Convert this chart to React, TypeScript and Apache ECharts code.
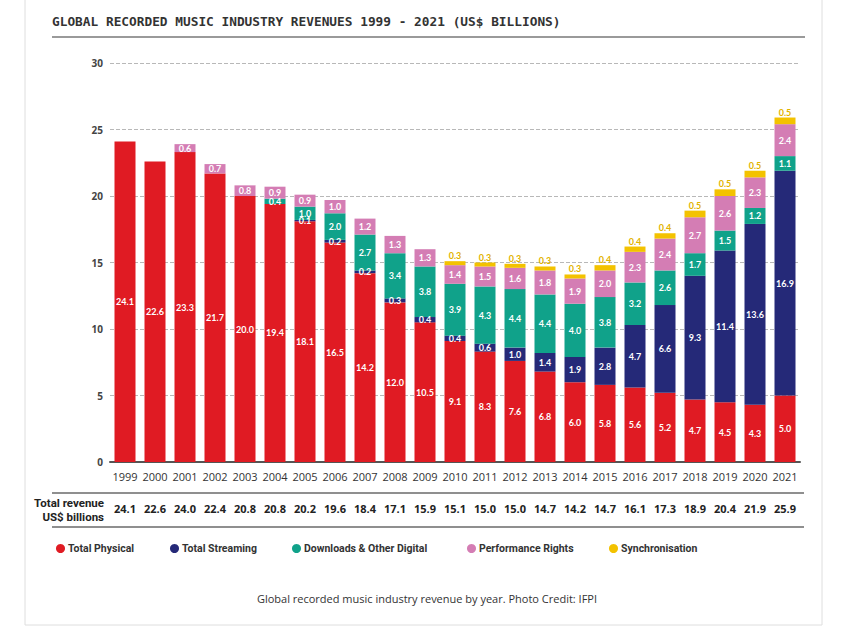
import React, { useEffect, useRef } from "react";
import * as echarts from "echarts";

const years = ["1999","2000","2001","2002","2003","2004","2005","2006","2007","2008","2009","2010","2011","2012","2013","2014","2015","2016","2017","2018","2019","2020","2021"];
const physical = [24.1,22.6,23.3,21.7,20.0,19.4,18.1,16.5,14.2,12.0,10.5,9.1,8.3,7.6,6.8,6.0,5.8,5.6,5.2,4.7,4.5,4.3,5.0];
const streaming = [0,0,0,0,0,0,0.1,0.2,0.2,0.3,0.4,0.4,0.6,1.0,1.4,1.9,2.8,4.7,6.6,9.3,11.4,13.6,16.9];
const downloads = [0,0,0,0,0,0.4,1.0,2.0,2.7,3.4,3.8,3.9,4.3,4.4,4.4,4.0,3.8,3.2,2.6,1.7,1.5,1.2,1.1];
const performance = [0,0,0.6,0.7,0.8,0.9,0.9,1.0,1.2,1.3,1.3,1.4,1.5,1.6,1.8,1.9,2.0,2.3,2.4,2.7,2.6,2.3,2.4];
const sync = [0,0,0,0,0,0,0,0,0,0,0,0.3,0.3,0.3,0.3,0.3,0.4,0.4,0.4,0.5,0.5,0.5,0.5];
const totals = ["24.1","22.6","24.0","22.4","20.8","20.8","20.2","19.6","18.4","17.1","15.9","15.1","15.0","15.0","14.7","14.2","14.7","16.1","17.3","18.9","20.4","21.9","25.9"];
const yTicks = [0, 5, 10, 15, 20, 25, 30];

const seriesNames = ["Total Physical","Total Streaming","Downloads & Other Digital","Performance Rights","Synchronisation"];
const seriesColors = ["#e01b23","#252978","#10a28a","#d47db4","#f3c200"];
const legendLefts = [51, 165, 287, 462, 604];

const COND = "Roboto, 'Open Sans', sans-serif";
const LABEL_FONT = "Lato, 'Open Sans', sans-serif";

export default function App() {
  const ref = useRef<HTMLDivElement>(null);
  useEffect(() => {
    if (!ref.current) return;
    const chart = echarts.init(ref.current, undefined, { renderer: "svg" });
    const values = [physical, streaming, downloads, performance, sync];
    const fmt = (p: any) => (p.value == null ? "" : Number(p.value).toFixed(1));
    const series = values.map((arr, i) => ({
      name: seriesNames[i],
      type: "bar",
      stack: "total",
      barWidth: 21,
      xAxisIndex: 0,
      data: arr.map((v) => (v === 0 ? null : v)),
      itemStyle: { color: seriesColors[i] },
      label: i === 4
        ? { show: true, position: "top", distance: 1, color: "#e2b300", fontSize: 9, fontWeight: "bold", fontFamily: LABEL_FONT, formatter: fmt }
        : { show: true, position: "inside", color: "#ffffff", fontSize: 9, fontWeight: "bold", fontFamily: LABEL_FONT, formatter: fmt },
    }));
    chart.setOption({
      animation: false,
      backgroundColor: "#ffffff",
      grid: { left: 110, right: 50, top: 63, bottom: 168 },
      legend: seriesNames.map((n, i) => ({
        data: [n],
        left: legendLefts[i],
        top: 538,
        icon: "circle",
        itemWidth: 9,
        itemHeight: 9,
        itemGap: 4,
        selectedMode: false,
        textStyle: { color: "#333", fontSize: 10.5, fontWeight: "bold", fontFamily: COND, padding: [0, 0, 0, -2] },
      })),
      xAxis: [
        {
          type: "category",
          data: years,
          position: "bottom",
          axisLine: { show: true, lineStyle: { color: "#555", width: 2 } },
          axisTick: { show: false },
          axisLabel: { interval: 0, color: "#333", fontSize: 11, fontFamily: "'Open Sans', sans-serif", margin: 9 },
        },
        {
          type: "category",
          data: totals,
          position: "bottom",
          offset: 41,
          axisLine: { show: false },
          axisTick: { show: false },
          axisLabel: { interval: 0, color: "#222", fontSize: 11, fontWeight: "bold", fontFamily: "'Open Sans', sans-serif", margin: 0 },
        },
      ],
      yAxis: {
        type: "value",
        min: yTicks[0],
        max: yTicks[yTicks.length - 1],
        interval: 5,
        axisLine: { show: false },
        axisTick: { show: false },
        axisLabel: { color: "#444", fontSize: 10, fontWeight: "bold", fontFamily: "'Open Sans', sans-serif", margin: 7 },
        splitLine: { lineStyle: { color: "#b8b8b8", type: [4, 2], width: 1 } },
      },
      graphic: [
        { type: "rect", shape: { x: 25, y: -2, width: 797, height: 627 }, style: { fill: "none", stroke: "#dedede", lineWidth: 1 }, silent: true, z: -10 },
        { type: "text", left: 52, top: 15, style: { text: "GLOBAL RECORDED MUSIC INDUSTRY REVENUES 1999 - 2021 (US$ BILLIONS)", fill: "#333", font: "bold 12.8px 'DejaVu Sans Mono', monospace" } },
        { type: "line", shape: { x1: 52, y1: 37, x2: 805, y2: 37 }, style: { stroke: "#9a9a9a", lineWidth: 2 } },
        { type: "line", shape: { x1: 52, y1: 493, x2: 804, y2: 493 }, style: { stroke: "#8f8f8f", lineWidth: 2 } },
        { type: "line", shape: { x1: 52, y1: 527, x2: 804, y2: 527 }, style: { stroke: "#8f8f8f", lineWidth: 2 } },
        { type: "text", x: 104, y: 503, style: { text: "Total revenue", fill: "#222", font: "bold 11.5px " + COND, textAlign: "right", textVerticalAlign: "middle" } },
        { type: "text", x: 104, y: 517, style: { text: "US$ billions", fill: "#222", font: "bold 11.5px " + COND, textAlign: "right", textVerticalAlign: "middle" } },
        { type: "text", x: 427, y: 598, style: { text: "Global recorded music industry revenue by year. Photo Credit: IFPI", fill: "#333", font: "11px 'Open Sans', sans-serif", textAlign: "center", textVerticalAlign: "middle" } },
      ],
      series,
    });
    return () => chart.dispose();
  }, []);
  return <div ref={ref} style={{ position: "fixed", left: 0, top: 0, width: 850, height: 630 }} />;
}
